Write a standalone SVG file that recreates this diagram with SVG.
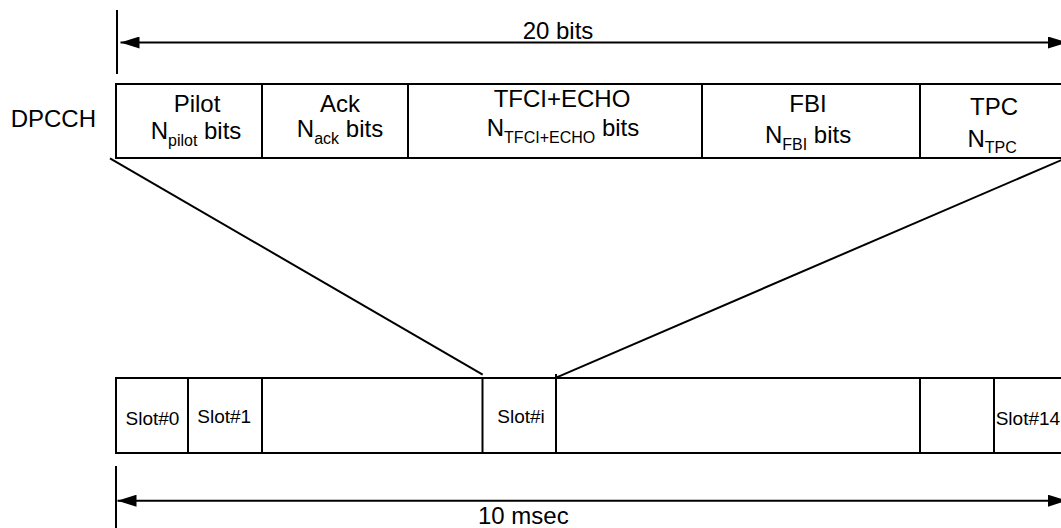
<svg xmlns="http://www.w3.org/2000/svg" width="1061" height="528" viewBox="0 0 1061 528">
<style>
.ln{stroke:#000;stroke-width:2;fill:none}
.bx{stroke:#000;stroke-width:2;fill:#fff}
text{font-family:"Liberation Sans",Arial,sans-serif;fill:#000}
.t{font-size:24px}
.c{text-anchor:middle}
.s{font-size:16px}
.sl{font-size:19px}
</style>
<defs>
<marker id="ah" markerUnits="userSpaceOnUse" markerWidth="20" markerHeight="12" refX="19" refY="6" orient="auto-start-reverse">
<path d="M0,0 L19,6 L0,12 Z" fill="#000"/>
</marker>
</defs>
<rect width="1061" height="528" fill="#fff"/>

<g id="label-dpcch">
<text class="t" x="96" y="127" text-anchor="end">DPCCH</text>
</g>

<g id="dpcch-frame">
<rect class="bx" x="116" y="84" width="970" height="74"/>
</g>
<g id="field-pilot">
<line class="ln" x1="262" y1="84" x2="262" y2="158"/>
<text class="t c" x="197" y="112">Pilot</text>
<text class="t c" x="196" y="139">N<tspan class="s" dy="7">pilot</tspan><tspan dy="-7"> bits</tspan></text>
</g>
<g id="field-ack">
<line class="ln" x1="408" y1="84" x2="408" y2="158"/>
<text class="t c" x="340" y="112">Ack</text>
<text class="t c" x="340" y="137">N<tspan class="s" dy="7">ack</tspan><tspan dy="-7"> bits</tspan></text>
</g>
<g id="field-tfci">
<line class="ln" x1="702" y1="84" x2="702" y2="158"/>
<text class="t c" x="562" y="107">TFCI+ECHO</text>
<text class="t c" x="563" y="136">N<tspan class="s" dy="7">TFCI+ECHO</tspan><tspan dy="-7"> bits</tspan></text>
</g>
<g id="field-fbi">
<line class="ln" x1="920" y1="84" x2="920" y2="158"/>
<text class="t c" x="808" y="112">FBI</text>
<text class="t c" x="808" y="143">N<tspan class="s" dy="7">FBI</tspan><tspan dy="-7"> bits</tspan></text>
</g>
<g id="field-tpc">
<text class="t c" x="994" y="115">TPC</text>
<text class="t" x="967.5" y="147">N<tspan class="s" dy="6">TPC</tspan></text>
</g>

<g id="slot-frame">
<rect class="bx" x="116" y="378" width="970" height="75"/>
</g>
<g id="slot-0">
<line class="ln" x1="188" y1="378" x2="188" y2="453"/>
<text class="sl" x="125.5" y="425">Slot#0</text>
</g>
<g id="slot-1">
<line class="ln" x1="262" y1="378" x2="262" y2="453"/>
<text class="sl" x="197.3" y="422.7">Slot#1</text>
</g>
<g id="slot-i">
<line class="ln" x1="482.5" y1="378" x2="482.5" y2="453"/>
<line class="ln" x1="556" y1="374" x2="556" y2="453"/>
<text class="sl" x="497.3" y="423.3">Slot#i</text>
</g>
<g id="slot-13">
<line class="ln" x1="920" y1="378" x2="920" y2="453"/>
</g>
<g id="slot-14">
<line class="ln" x1="994" y1="378" x2="994" y2="453"/>
<text class="sl" x="995.7" y="425">Slot#14</text>
</g>

<g id="connectors">
<line class="ln" x1="117" y1="10" x2="117" y2="74"/>
<line class="ln" x1="120.5" y1="42.5" x2="1067" y2="42.5" marker-start="url(#ah)" marker-end="url(#ah)"/>
<line class="ln" x1="116" y1="466" x2="116" y2="528"/>
<line class="ln" x1="117.5" y1="500.7" x2="1067" y2="500.7" marker-start="url(#ah)" marker-end="url(#ah)"/>
<line class="ln" x1="110" y1="158.3" x2="482.7" y2="374.7"/>
<line class="ln" x1="1065" y1="158.5" x2="556.7" y2="377.3"/>
</g>

<g id="dimension-labels">
<text class="t c" x="558" y="39">20 bits</text>
<text class="t c" x="523.3" y="524">10 msec</text>
</g>
</svg>
